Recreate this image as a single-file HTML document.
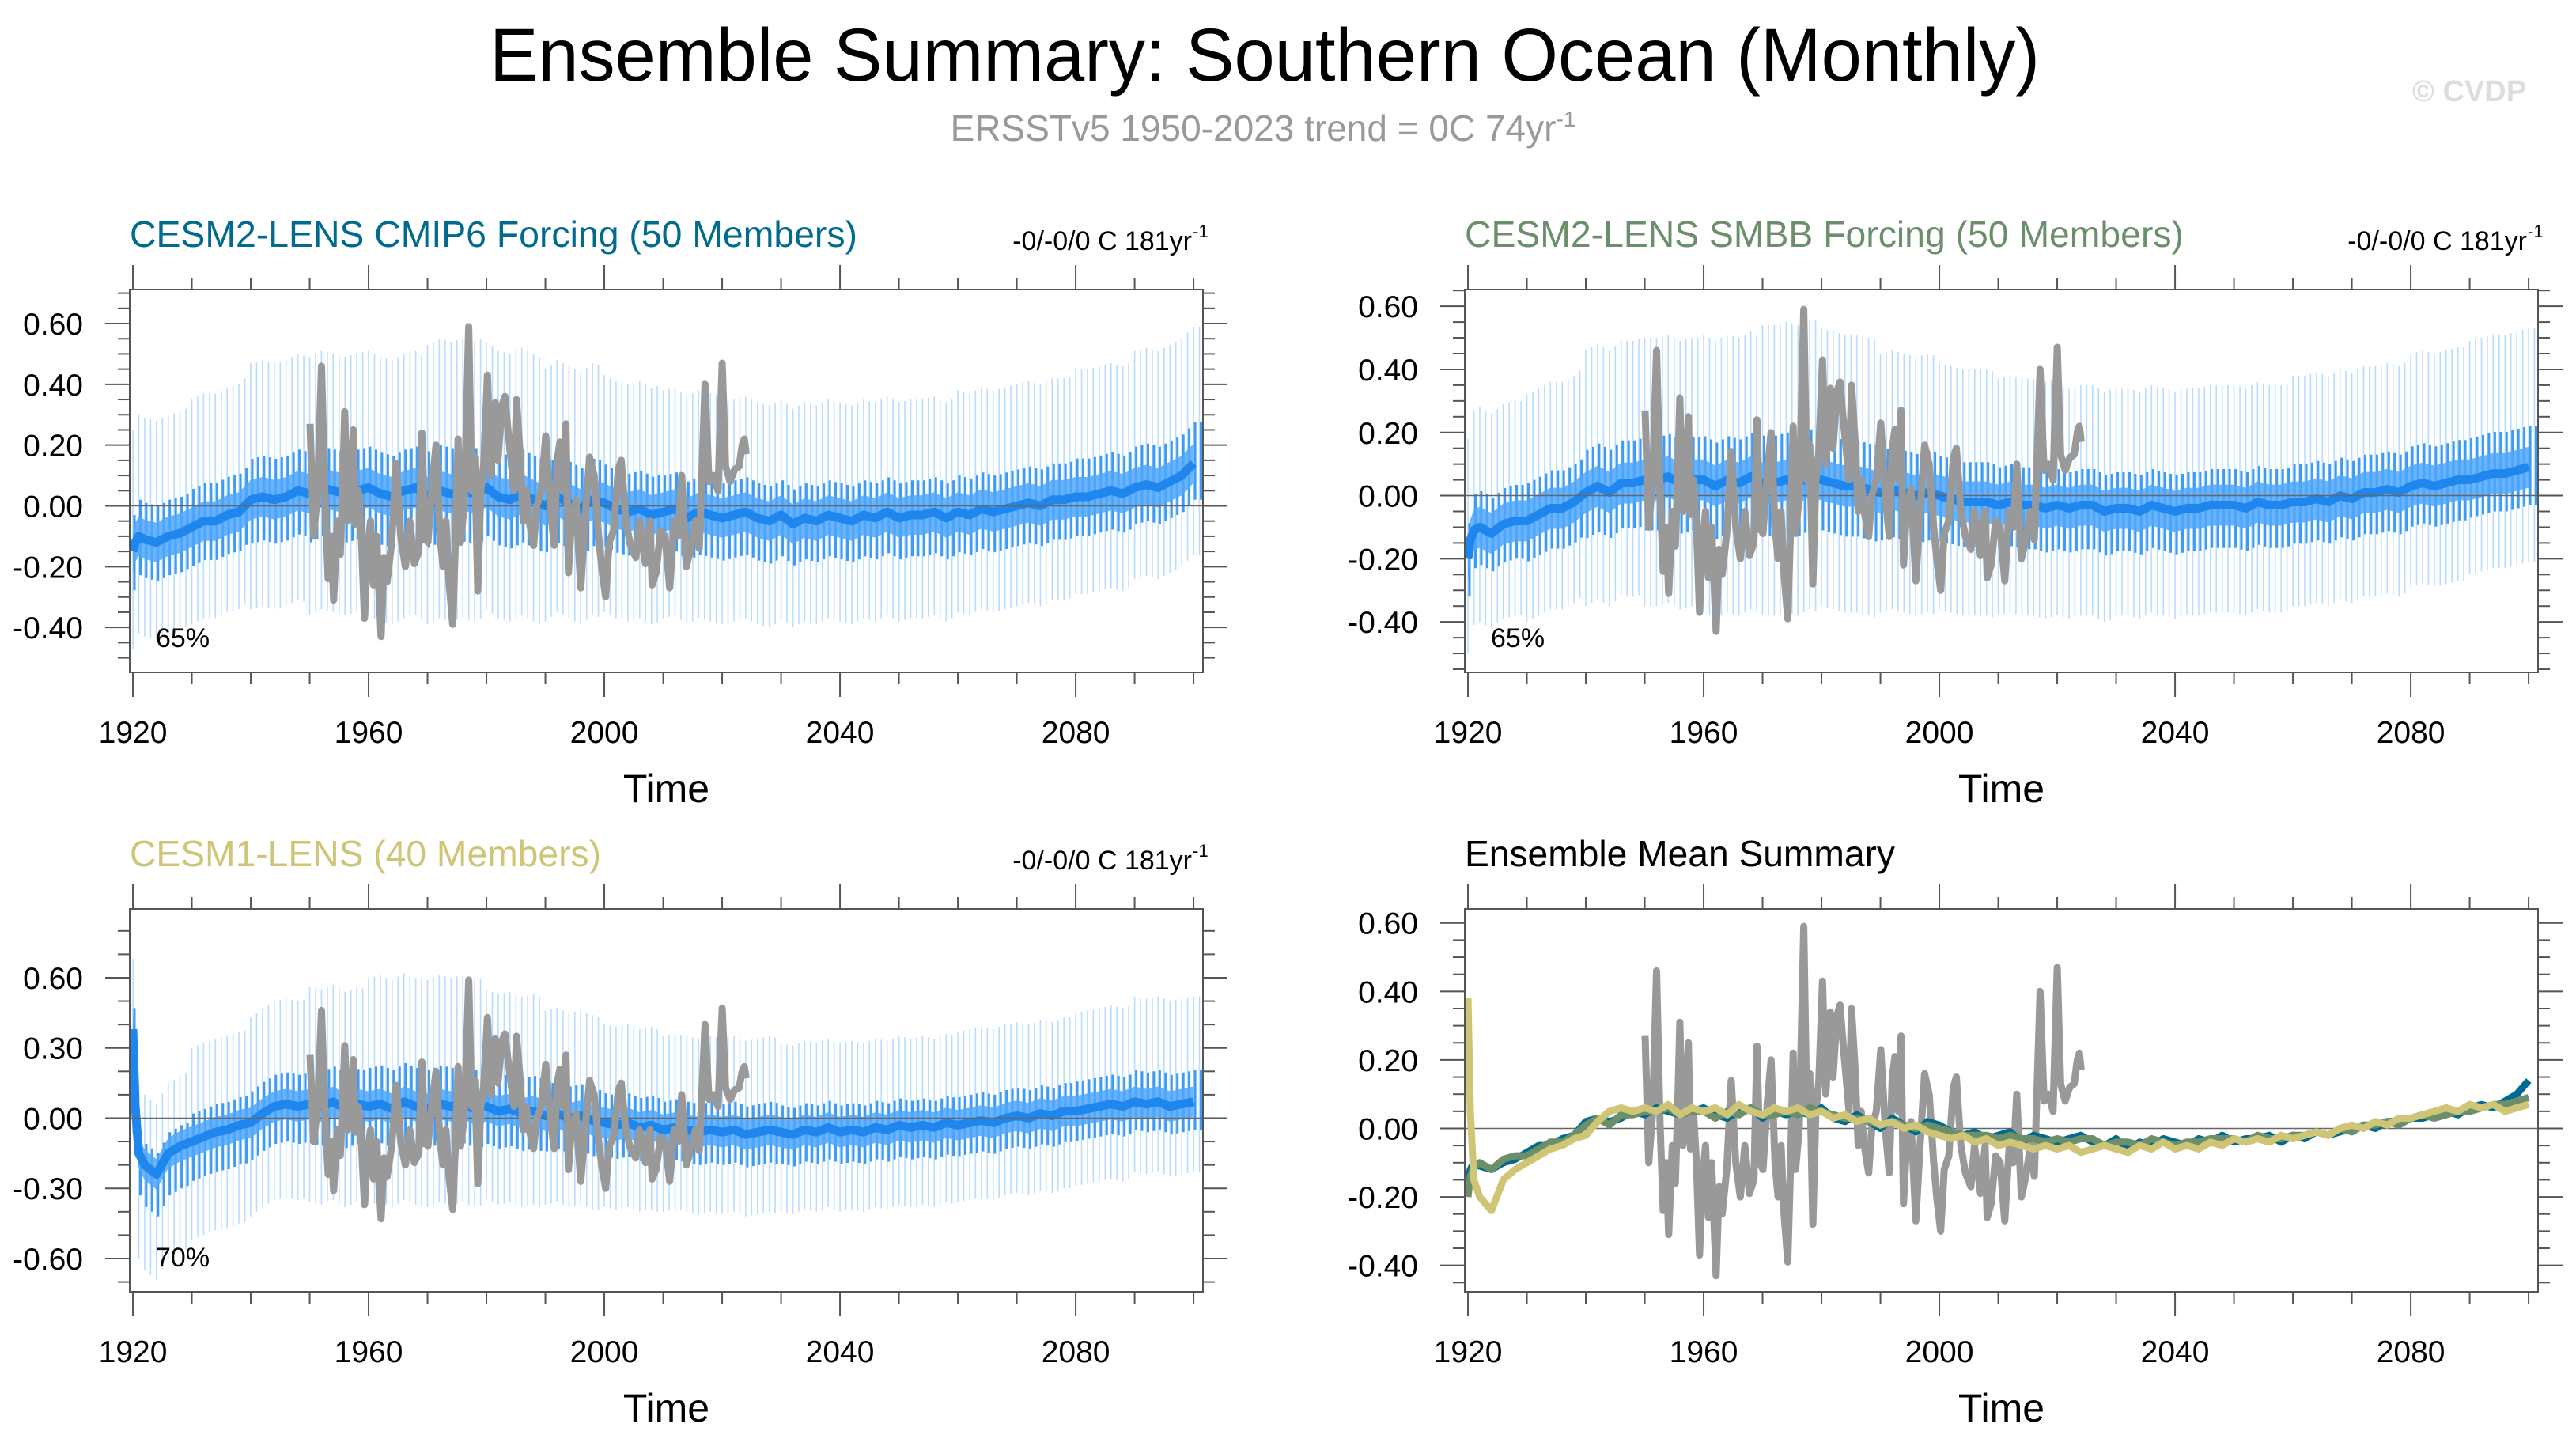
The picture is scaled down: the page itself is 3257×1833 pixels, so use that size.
<!DOCTYPE html>
<html><head><meta charset="utf-8">
<style>
html,body{margin:0;padding:0;background:#fff;}
svg{display:block;font-family:"Liberation Sans",Arial,sans-serif;}
</style></head>
<body>
<svg id="fig" width="3257" height="1833" viewBox="0 0 3257 1833" xmlns="http://www.w3.org/2000/svg">
<rect x="0" y="0" width="3257" height="1833" fill="#fff"/>
<text x="1599" y="102" text-anchor="middle" font-size="95" textLength="1960" lengthAdjust="spacingAndGlyphs" fill="#000">Ensemble Summary: Southern Ocean (Monthly)</text>
<text x="1597" y="178" text-anchor="middle" font-size="46" fill="#999">ERSSTv5 1950-2023 trend = 0C 74yr<tspan font-size="28" dy="-18">-1</tspan></text>
<text x="3122" y="128" text-anchor="middle" font-size="38" font-weight="bold" fill="#ddd">© CVDP</text>
<g id="panels"></g>
</svg>
<script>
// ---- data ----
const modelYears = [1920,1920.4,1921,
 1922,1924,1926,1928,1930,1932,1934,1936,1938,1940,
 1942,1944,1946,1948,1950,1952,1954,1956,1958,1960,
 1962,1964,1966,1968,1970,1972,1974,1976,1978,1980,
 1982,1984,1986,1988,1990,1992,1994,1996,1998,2000,
 2002,2004,2006,2008,2010,2012,2014,2016,2018,2020,
 2022,2024,2026,2028,2030,2032,2034,2036,2038,2040,
 2042,2044,2046,2048,2050,2052,2054,2056,2058,2060,
 2062,2064,2066,2068,2070,2072,2074,2076,2078,2080,
 2082,2084,2086,2088,2090,2092,2094,2096,2098,2100];
const cmip6Mean = [-0.15,-0.12,-0.10,
 -0.11,-0.12,-0.10,-0.09,-0.07,-0.05,-0.05,-0.03,-0.02,0.02,
 0.03,0.02,0.03,0.05,0.04,0.06,0.05,0.04,0.05,0.06,
 0.04,0.03,0.05,0.06,0.03,0.05,0.04,0.05,0.04,0.06,
 0.03,0.02,0.04,0.02,0.00,0.03,0.01,-0.01,0.02,0.01,
 -0.01,-0.02,-0.01,-0.03,-0.02,-0.01,-0.04,-0.02,-0.03,-0.04,
 -0.03,-0.02,-0.04,-0.05,-0.03,-0.06,-0.04,-0.05,-0.03,-0.04,
 -0.05,-0.03,-0.04,-0.02,-0.04,-0.03,-0.03,-0.02,-0.04,-0.02,
 -0.03,-0.01,-0.02,-0.01,0.00,0.01,0.00,0.02,0.02,0.03,
 0.03,0.04,0.05,0.04,0.06,0.07,0.06,0.08,0.10,0.14];
const smbbMean = [-0.20,-0.14,-0.11,
 -0.10,-0.12,-0.09,-0.08,-0.08,-0.06,-0.04,-0.04,-0.02,0.01,
 0.03,0.01,0.04,0.04,0.05,0.05,0.06,0.04,0.05,0.05,
 0.03,0.05,0.04,0.06,0.04,0.04,0.05,0.04,0.06,0.05,
 0.04,0.03,0.03,0.02,0.01,0.02,0.01,0.00,0.01,0.00,
 -0.01,-0.02,-0.02,-0.02,-0.03,-0.02,-0.03,-0.03,-0.04,-0.03,
 -0.04,-0.03,-0.03,-0.05,-0.04,-0.04,-0.05,-0.03,-0.04,-0.05,
 -0.04,-0.04,-0.03,-0.03,-0.03,-0.04,-0.02,-0.03,-0.03,-0.02,
 -0.02,-0.01,-0.02,0.00,-0.01,0.01,0.01,0.02,0.01,0.03,
 0.04,0.03,0.04,0.05,0.05,0.06,0.07,0.07,0.08,0.09];
const cesm1Mean = [0.38,0.05,-0.15,
 -0.20,-0.24,-0.15,-0.12,-0.10,-0.08,-0.06,-0.05,-0.03,-0.02,
 0.02,0.05,0.06,0.05,0.06,0.05,0.07,0.04,0.06,0.05,
 0.06,0.04,0.07,0.05,0.04,0.06,0.05,0.06,0.04,0.05,
 0.03,0.04,0.02,0.03,0.01,0.02,0.00,0.01,-0.01,-0.02,
 -0.03,-0.02,-0.04,-0.03,-0.05,-0.04,-0.05,-0.06,-0.05,-0.06,
 -0.05,-0.07,-0.06,-0.05,-0.06,-0.07,-0.05,-0.06,-0.04,-0.06,
 -0.05,-0.06,-0.04,-0.05,-0.03,-0.04,-0.03,-0.04,-0.02,-0.03,
 -0.02,-0.01,-0.02,0.00,0.01,0.00,0.02,0.01,0.03,0.03,
 0.04,0.05,0.06,0.05,0.07,0.06,0.07,0.05,0.06,0.07];
const obsYears = [1950.06,1950.68,1951.35,1952.01,1952.63,1953.14,1953.65,1954.06,1954.68,1955.19,
 1955.6,1955.96,1956.47,1956.83,1957.4,1957.76,1958.27,1958.78,1959.3,1959.81,
 1960.32,1960.83,1961.35,1962.12,1962.63,1963.14,1963.91,1964.68,1965.45,1966.22,
 1966.99,1967.76,1968.53,1969.04,1969.55,1970.06,1970.83,1971.45,1972.12,1972.63,
 1973.14,1973.65,1974.27,1974.78,1975.19,1975.6,1976.22,1976.99,1977.5,1978.01,
 1978.53,1979.04,1979.55,1980.17,1980.73,1981.5,1981.96,1982.63,1983.14,1983.65,
 1984.17,1984.68,1985.09,1985.71,1986.22,1986.73,1987.24,1988.01,1988.53,1989.29,
 1990.06,1990.83,1991.5,1992.01,1992.47,1993.04,1993.5,1993.91,1994.42,1995.19,
 1996.01,1996.73,1997.5,1998.27,1999.04,1999.55,2000.22,2000.83,2001.6,2002.37,
 2002.88,2003.65,2004.42,2005.35,2005.96,2006.99,2007.76,2008.12,2008.78,2009.55,
 2010.32,2011.09,2011.86,2012.53,2013.14,2013.91,2014.68,2015.45,2016.12,2016.73,
 2017.09,2017.76,2018.53,2019.29,2020.01,2020.58,2021.35,2022.12,2022.88,2023.4,
 2023.76,2024.07];
const obsValues = [0.27,-0.10,0.05,0.46,0.00,-0.24,-0.10,-0.31,-0.05,-0.16,
 0.07,0.31,-0.05,0.00,0.25,-0.06,0.05,-0.10,-0.37,-0.15,
 -0.05,-0.26,-0.10,-0.43,-0.17,-0.25,-0.12,0.14,-0.10,-0.20,
 -0.05,-0.19,-0.15,0.24,-0.10,-0.12,0.08,0.20,-0.10,-0.20,
 -0.05,-0.25,-0.39,-0.08,0.22,-0.12,0.00,0.59,0.05,0.16,
 -0.28,0.05,0.14,0.43,0.10,0.34,0.15,0.33,0.36,0.25,
 0.15,0.05,0.35,0.17,-0.05,0.05,-0.05,-0.13,0.00,0.05,
 0.23,0.00,-0.13,0.15,0.21,0.05,0.27,-0.22,-0.05,0.02,
 -0.27,-0.05,0.16,0.10,-0.10,-0.20,-0.30,-0.12,-0.08,0.12,
 0.15,-0.05,-0.13,-0.17,-0.05,-0.19,-0.05,-0.26,-0.22,-0.08,
 -0.10,-0.27,-0.05,-0.10,0.10,-0.20,-0.14,-0.05,-0.14,0.20,
 0.40,0.08,0.10,0.05,0.47,0.13,0.08,0.12,0.13,0.20,
 0.22,0.17];
// ensemble spread (spike reach above / below mean), one value per decade 1920s..2100
const cmip6SpreadUp = [0.40,0.42,0.45,0.45,0.45,0.50,0.48,0.45,0.42,0.40,0.38,0.38,0.38,0.38,0.40,0.40,0.42,0.45,0.45];
const cmip6SpreadDn = [0.32,0.32,0.36,0.40,0.42,0.42,0.40,0.38,0.36,0.35,0.35,0.34,0.34,0.34,0.33,0.33,0.32,0.30,0.30];
const smbbSpreadUp = [0.38,0.40,0.45,0.45,0.46,0.50,0.48,0.44,0.42,0.40,0.38,0.38,0.38,0.38,0.40,0.40,0.42,0.44,0.44];
const smbbSpreadDn = [0.30,0.32,0.36,0.40,0.42,0.42,0.40,0.38,0.36,0.35,0.35,0.34,0.34,0.34,0.33,0.33,0.32,0.30,0.30];
const cesm1SpreadUp = [0.30,0.40,0.45,0.50,0.55,0.55,0.50,0.45,0.42,0.40,0.40,0.38,0.38,0.38,0.40,0.40,0.42,0.45,0.45];
const cesm1SpreadDn = [0.45,0.42,0.40,0.42,0.42,0.42,0.40,0.38,0.36,0.35,0.35,0.34,0.34,0.34,0.33,0.33,0.32,0.30,0.30];
const xTickLabels = ["1920","1960","2000","2040","2080"];
const xMajorTicks = [1920,1960,2000,2040,2080];

// ---- drawing ----
const NS = "http://www.w3.org/2000/svg";
const root = document.getElementById("panels");
function el(tag, attrs, parent) {
  const e = document.createElementNS(NS, tag);
  for (const k in attrs) e.setAttribute(k, attrs[k]);
  (parent || root).appendChild(e);
  return e;
}
function interp(xs, ys, x) {
  if (x <= xs[0]) return ys[0];
  for (let i = 1; i < xs.length; i++) {
    if (x <= xs[i]) { const t = (x - xs[i-1]) / (xs[i] - xs[i-1]); return ys[i-1] + t * (ys[i] - ys[i-1]); }
  }
  return ys[ys.length - 1];
}
function pathFrom(xs, ys, sx, sy) {
  let d = "";
  for (let i = 0; i < xs.length; i++) d += (i ? "L" : "M") + sx(xs[i]).toFixed(1) + "," + sy(ys[i]).toFixed(1);
  return d;
}

function panel(cfg) {
  const g = el("g", {});
  
  
  const x0 = cfg.x0, x1 = cfg.x1, y0 = cfg.y0, y1 = cfg.y1;
  const xmin = 1919.46, xmax = 2101.6;
  const sx = v => x0 + (v - xmin) / (xmax - xmin) * (x1 - x0);
  const sy = v => y1 - (v - cfg.ymin) / (cfg.ymax - cfg.ymin) * (y1 - y0);

  const t = el("text", {x: x0, y: y0 - 54, "font-size": 46, fill: cfg.titleColor, textLength: cfg.titleLen, lengthAdjust: "spacingAndGlyphs"}, g);
  t.textContent = cfg.title;
  
  
  if (cfg.trend) {
    const tr = el("text", {x: x1 - 14, y: y0 - 50, "font-size": 34, fill: "#000", "text-anchor": "end"}, g);
    tr.textContent = "-0/-0/0 C 181yr";
    
    
    const sup = el("text", {x: x1 - 13, y: y0 - 66, "font-size": 22, fill: "#000"}, g);
    sup.textContent = "-1";
    
    
  }

  const clipId = "clip-" + cfg.name;
  const cp = el("clipPath", {id: clipId}, g);
  el("rect", {x: x0, y: y0, width: x1 - x0, height: y1 - y0}, cp);
  const plot = el("g", {"clip-path": "url(#" + clipId + ")"}, g);
  
  

  if (cfg.mean) {
    for (let yr = 1920; yr <= 2101; yr += 1) {
      const m = interp(modelYears, cfg.mean, yr);
      const di = Math.min(18, Math.floor((yr - 1920) / 10));
      const up = cfg.up[di], dn = cfg.dn[di];
      const s = el("line", {x1: sx(yr).toFixed(1), x2: sx(yr).toFixed(1), y1: sy(m + up).toFixed(1), y2: sy(m - dn).toFixed(1), stroke: "#b8dcff", "stroke-width": 1.6}, plot);
      
      
      const s2 = el("line", {x1: (sx(yr) + 2).toFixed(1), x2: (sx(yr) + 2).toFixed(1), y1: sy(m + up * 0.3).toFixed(1), y2: sy(m - dn * 0.4).toFixed(1), stroke: "#3d9bf5", "stroke-width": 3}, plot);
      
      
    }
    let d = "";
    for (let i = 0; i < modelYears.length; i++) d += (i ? "L" : "M") + sx(modelYears[i]).toFixed(1) + "," + sy(cfg.mean[i] + 0.065).toFixed(1);
    for (let i = modelYears.length - 1; i >= 0; i--) d += "L" + sx(modelYears[i]).toFixed(1) + "," + sy(cfg.mean[i] - 0.065).toFixed(1);
    const band = el("path", {d: d + "Z", fill: "#4fa7fb", "fill-opacity": 0.85}, plot);
    
    
    const ml = el("path", {d: pathFrom(modelYears, cfg.mean, sx, sy), fill: "none", stroke: "#1e86ec", "stroke-width": 11, "stroke-linejoin": "round"}, plot);
    
    
  }
  const z = el("line", {x1: x0, x2: x1, y1: sy(0), y2: sy(0), stroke: "#666", "stroke-width": 1.5}, plot);
  
  

  const ob = el("path", {d: pathFrom(obsYears, obsValues, sx, sy), fill: "none", stroke: "#999", "stroke-width": 9, "stroke-linejoin": "round"}, plot);
  
  
  if (cfg.summary) {
    const l1 = el("path", {d: pathFrom(modelYears, cmip6Mean, sx, sy), fill: "none", stroke: "#006b8f", "stroke-width": 9, "stroke-linejoin": "round"}, plot);
    
    
    const l2 = el("path", {d: pathFrom(modelYears, smbbMean, sx, sy), fill: "none", stroke: "#6b8f6b", "stroke-width": 9, "stroke-linejoin": "round"}, plot);
    
    
    const l3 = el("path", {d: pathFrom(modelYears, cesm1Mean, sx, sy), fill: "none", stroke: "#cfc576", "stroke-width": 9, "stroke-linejoin": "round"}, plot);
    
    
  }

  const fr = el("rect", {x: x0, y: y0, width: x1 - x0, height: y1 - y0, fill: "none", stroke: "#555", "stroke-width": 2}, g);
  
  

  for (let yr = 1920; yr <= 2100; yr += 10) {
    const major = xMajorTicks.indexOf(yr) >= 0;
    const L = major ? 31 : 15;
    const X = sx(yr);
    el("line", {x1: X, x2: X, y1: y1, y2: y1 + L, stroke: "#555", "stroke-width": 2}, g);
    el("line", {x1: X, x2: X, y1: y0, y2: y0 - L, stroke: "#555", "stroke-width": 2}, g);
  }
  for (let i = 0; i < xMajorTicks.length; i++) {
    const tl = el("text", {x: sx(xMajorTicks[i]), y: y1 + 89, "font-size": 39, "text-anchor": "middle", fill: "#000"}, g);
    tl.textContent = xTickLabels[i];
    
    
  }
  const xt = el("text", {x: (x0 + x1) / 2, y: y1 + 164, "font-size": 50, "text-anchor": "middle", fill: "#000"}, g);
  xt.textContent = "Time";
  
  

  const nMin = Math.ceil(cfg.ymin / cfg.minor - 1e-6), nMax = Math.floor(cfg.ymax / cfg.minor + 1e-6);
  for (let n = nMin; n <= nMax; n++) {
    const v = n * cfg.minor;
    const major = Math.abs(v / cfg.major - Math.round(v / cfg.major)) < 1e-6;
    const L = major ? 31 : 15;
    const Y = sy(v);
    el("line", {x1: x0, x2: x0 - L, y1: Y, y2: Y, stroke: "#555", "stroke-width": 2}, g);
    el("line", {x1: x1, x2: x1 + L, y1: Y, y2: Y, stroke: "#555", "stroke-width": 2}, g);
    if (major) {
      const yl = el("text", {x: x0 - 59, y: Y + 14, "font-size": 39, "text-anchor": "end", fill: "#000"}, g);
      yl.textContent = v.toFixed(2);
      
      
    }
  }
  if (cfg.pct) {
    const p = el("text", {x: x0 + 33, y: y1 - 32, "font-size": 34, fill: "#000"}, g);
    p.textContent = cfg.pct;
    
    
  }
}

panel({name: "panel-cesm2-cmip6", x0: 164, x1: 1521, y0: 366, y1: 850, ymin: -0.548, ymax: 0.712, major: 0.2, minor: 0.05,
  title: "CESM2-LENS CMIP6 Forcing (50 Members)", titleColor: "#006b8f", titleLen: 920, trend: true,
  mean: cmip6Mean, up: cmip6SpreadUp, dn: cmip6SpreadDn, pct: "65%"});
panel({name: "panel-cesm2-smbb", x0: 1852, x1: 3209, y0: 366, y1: 850, ymin: -0.56, ymax: 0.653, major: 0.2, minor: 0.05,
  title: "CESM2-LENS SMBB Forcing (50 Members)", titleColor: "#6b8f6b", titleLen: 909, trend: true,
  mean: smbbMean, up: smbbSpreadUp, dn: smbbSpreadDn, pct: "65%"});
panel({name: "panel-cesm1", x0: 164, x1: 1521, y0: 1149, y1: 1633, ymin: -0.742, ymax: 0.894, major: 0.3, minor: 0.1,
  title: "CESM1-LENS (40 Members)", titleColor: "#cfc576", titleLen: 596, trend: true,
  mean: cesm1Mean, up: cesm1SpreadUp, dn: cesm1SpreadDn, pct: "70%"});
panel({name: "panel-ensemble-mean-summary", x0: 1852, x1: 3209, y0: 1149, y1: 1633, ymin: -0.477, ymax: 0.641, major: 0.2, minor: 0.05,
  title: "Ensemble Mean Summary", titleColor: "#000", titleLen: 544, trend: false, summary: true});
</script>
</body></html>
